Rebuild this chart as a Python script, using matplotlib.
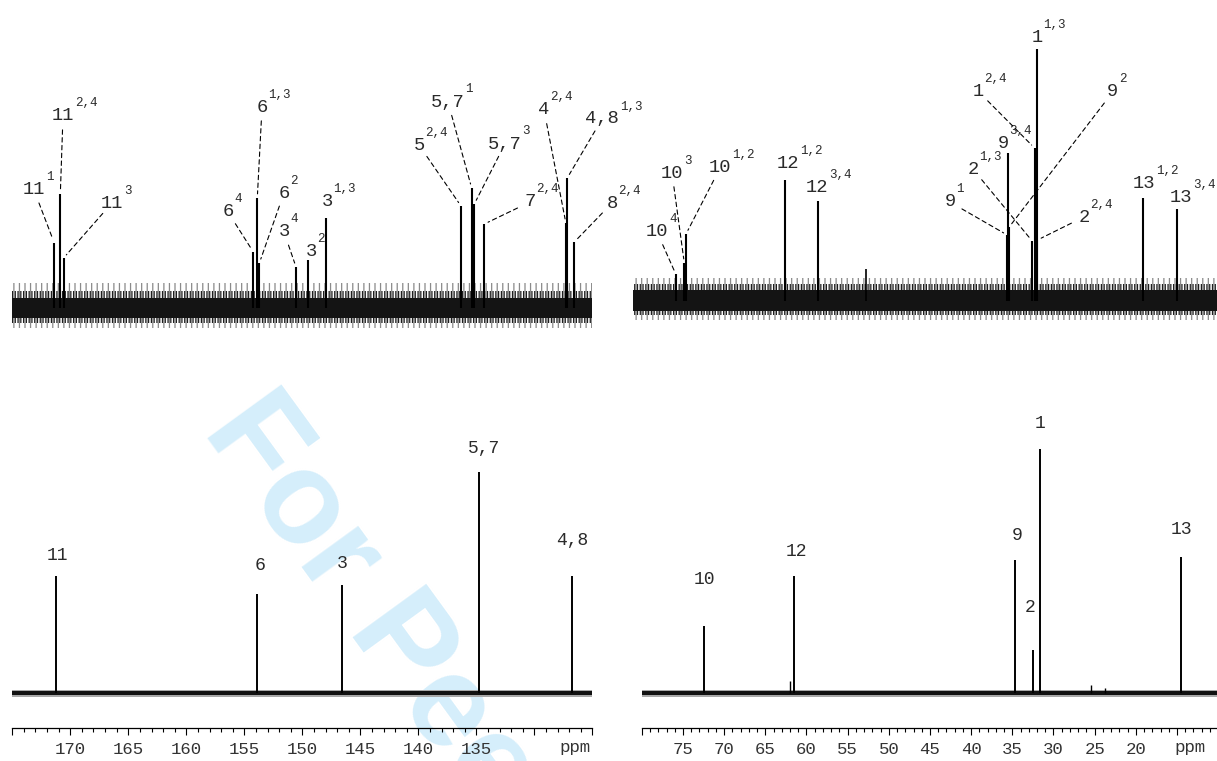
import matplotlib
matplotlib.use("Agg")
import matplotlib.pyplot as plt
from matplotlib.ticker import MultipleLocator, FuncFormatter

plt.rcParams['font.family'] = ['Liberation Mono', 'DejaVu Sans Mono']
plt.rcParams['hatch.linewidth'] = 0.9

# ---- data: top spectra (mixture), ppm / intensity / assignment ----
tl_ppm = [171.38, 170.86, 170.58, 154.22, 153.88, 153.70, 150.54, 149.48, 148.00,
          136.32, 135.40, 135.17, 134.31, 127.28, 127.16, 126.55]
tl_int = [65, 114, 50, 56, 110, 45, 41, 48, 90, 102, 120, 104, 84, 85, 130, 66]
tl_base = ['11', '11', '11', '6', '6', '6', '3', '3', '3',
           '5', '5,7', '5,7', '7', '4', '4,8', '8']
tl_sup = ['1', '2,4', '3', '4', '1,3', '2', '4', '2', '1,3',
          '2,4', '1', '3', '2,4', '2,4', '1,3', '2,4']

tr_ppm = [75.88, 74.84, 74.63, 62.65, 58.64, 35.62, 35.50, 35.38, 32.59,
          32.30, 32.05, 31.95, 19.18, 15.05]
tr_int = [27, 38, 67, 121, 100, 66, 148, 74, 60, 153, 252, 61, 103, 92]
tr_base = ['10', '10', '10', '12', '12', '9', '9', '9', '2', '1', '1', '2', '13', '13']
tr_sup = ['4', '3', '1,2', '1,2', '3,4', '1', '3,4', '2', '1,3', '2,4', '1,3', '2,4',
          '1,2', '3,4']
tr_extra_ppm = [52.78]
tr_extra_int = [32]

# ---- data: bottom spectra (single compound) ----
bl_ppm = [171.23, 153.88, 146.60, 134.77, 126.72]
bl_int = [117, 99, 108, 221, 117]
bl_lab = ['11', '6', '3', '5,7', '4,8']

br_ppm = [72.45, 61.52, 34.69, 32.47, 31.65, 14.56]
br_int = [67, 117, 133, 43, 244, 136]
br_lab = ['10', '12', '9', '2', '1', '13']
br_extra_ppm = [61.97, 25.46, 23.80]
br_extra_int = [12, 8, 5]

# ---- layout: label positions (ppm, height) and whether a dashed leader is drawn ----
tl_pos = [(173.13, 118), (170.63, 192), (166.41, 105), (156.41, 96), (153.47, 201),
          (151.58, 115), (151.58, 76), (149.25, 56), (147.87, 106), (139.94, 163),
          (137.44, 206), (132.53, 164), (130.37, 106), (129.16, 198), (124.16, 189),
          (123.30, 105)]
tl_lead = [1, 1, 1, 1, 1, 1, 1, 0, 0, 1, 1, 1, 1, 1, 1, 1]
tr_pos = [(78.15, 69), (76.33, 128), (70.50, 133), (62.25, 137), (58.73, 114),
          (42.58, 99), (36.14, 157), (22.80, 209), (39.79, 132), (39.18, 210),
          (32.02, 263), (26.31, 84), (19.03, 117), (14.54, 104)]
tr_lead = [1, 1, 1, 0, 0, 1, 0, 1, 1, 1, 0, 1, 0, 0]
bl_pos = [(171.15, 138), (153.66, 128), (146.60, 129), (134.34, 244), (126.75, 152)]
br_pos = [(72.33, 114), (61.19, 142), (34.41, 158), (32.78, 85), (31.57, 269), (14.41, 163)]

TXT = '#2a2a2a'
W, H = 1217, 761

fig = plt.figure(figsize=(W / 100, H / 100), dpi=100)
fig.patch.set_facecolor('white')

fig.text(0.166, 0.434, 'For Peer Review', rotation=-54, rotation_mode='anchor',
         ha='left', va='baseline', fontsize=94, fontweight='bold',
         family='Liberation Sans', color='#d5eefb', zorder=-1)


def px_axes(x0, y0, x1, y1):
    return fig.add_axes([x0 / W, 1 - y1 / H, (x1 - x0) / W, (y1 - y0) / H])


def noise(ax, xlim, bands):
    # baseline noise as nested bands: (below, above, colour, hatch)
    for lo, hi, c, hatch in bands:
        if hatch:
            ax.fill_between(xlim, -lo, hi, facecolor='none', edgecolor=c,
                            hatch=hatch, linewidth=0, zorder=1)
        else:
            ax.fill_between(xlim, -lo, hi, color=c, linewidth=0, zorder=1)


def put_label(ax, base, sup, lx, ly, peak=None, size=13.5):
    t = ax.text(lx, ly, base, ha='center', va='center', fontsize=size, color=TXT)
    if sup:
        ax.annotate(sup, xy=(1, 0.5), xycoords=t, xytext=(0.5, 9),
                    textcoords='offset points', ha='left', va='center',
                    fontsize=9, color=TXT)
    if peak is not None:
        ax.annotate('', xy=peak, xytext=(lx, ly),
                    arrowprops=dict(arrowstyle='-', linestyle=(0, (4, 3)), lw=0.8,
                                    color='black', shrinkA=10, shrinkB=3))


top_bands_l = [(20, 25, '#8a8a8a', '|||'), (15, 17, '#1e1e1e', '||||||'),
               (10, 10, '#141414', None)]
top_bands_r = [(19, 23, '#8a8a8a', '|||'), (14, 17, '#1e1e1e', '||||||'),
               (10, 11, '#141414', None)]

# ---------------- top left ----------------
ax = px_axes(12.3, 0, 592.3, 345)
ax.set_xlim(175, 125)
ax.set_ylim(-37, 308)
ax.axis('off')
noise(ax, [175, 125], top_bands_l)
ax.vlines(tl_ppm, 0, tl_int, color='black', lw=1.5, zorder=2)
for i in range(len(tl_ppm)):
    lx, ly = tl_pos[i]
    pk = (tl_ppm[i], tl_int[i]) if tl_lead[i] else None
    put_label(ax, tl_base[i], tl_sup[i], lx, ly, pk)

# ---------------- top right ----------------
ax = px_axes(633, 0, 1217, 345)
ax.set_xlim(81.07, 10.14)
ax.set_ylim(-44, 301)
ax.axis('off')
noise(ax, [81.07, 10.14], top_bands_r)
ax.vlines(tr_ppm, 0, tr_int, color='black', lw=1.5, zorder=2)
ax.vlines(tr_extra_ppm, 0, tr_extra_int, color='black', lw=1.2, zorder=2)
for i in range(len(tr_ppm)):
    lx, ly = tr_pos[i]
    pk = (tr_ppm[i], tr_int[i]) if tr_lead[i] else None
    put_label(ax, tr_base[i], tr_sup[i], lx, ly, pk)


# ---------------- bottom panels ----------------
def bottom_axes(x0, x1, xlim, hidden, ppm_x):
    a = px_axes(x0, 380, x1, 727.7)
    a.set_xlim(*xlim)
    a.set_ylim(-34.7, 313)
    a.set_facecolor('none')
    for s in ['left', 'right', 'top']:
        a.spines[s].set_visible(False)
    a.spines['bottom'].set_linewidth(0.9)
    a.set_yticks([])
    a.xaxis.set_major_locator(MultipleLocator(5))
    a.xaxis.set_minor_locator(MultipleLocator(1))
    a.xaxis.set_major_formatter(FuncFormatter(
        lambda v, p: '' if round(v) in hidden else '%d' % round(v)))
    a.tick_params(axis='x', which='major', direction='out', length=5, width=0.8,
                  labelsize=12.5, pad=5, labelcolor='#333333')
    a.tick_params(axis='x', which='minor', direction='out', length=2.6, width=0.8)
    a.text(ppm_x, -0.058, 'ppm', transform=a.transAxes, ha='center', va='center',
           fontsize=12.5, color='#333333')
    noise(a, list(xlim), [(3.5, 3.5, '#a8a8a8', None), (1.8, 1.8, '#111111', None)])
    return a


ax = bottom_axes(12.3, 592.3, (175, 125), {175, 130, 125}, 0.970)
ax.vlines(bl_ppm, 0, bl_int, color='black', lw=1.4, zorder=2)
for i in range(len(bl_ppm)):
    put_label(ax, bl_lab[i], '', bl_pos[i][0], bl_pos[i][1], size=13)

ax = bottom_axes(641.8, 1217, (80, 10.14), {80, 15, 10}, 0.953)
ax.vlines(br_ppm, 0, br_int, color='black', lw=1.4, zorder=2)
ax.vlines(br_extra_ppm, 0, br_extra_int, color='black', lw=1.0, zorder=2)
for i in range(len(br_ppm)):
    put_label(ax, br_lab[i], '', br_pos[i][0], br_pos[i][1], size=13)

fig.savefig('out.png', dpi=100, facecolor='white')
